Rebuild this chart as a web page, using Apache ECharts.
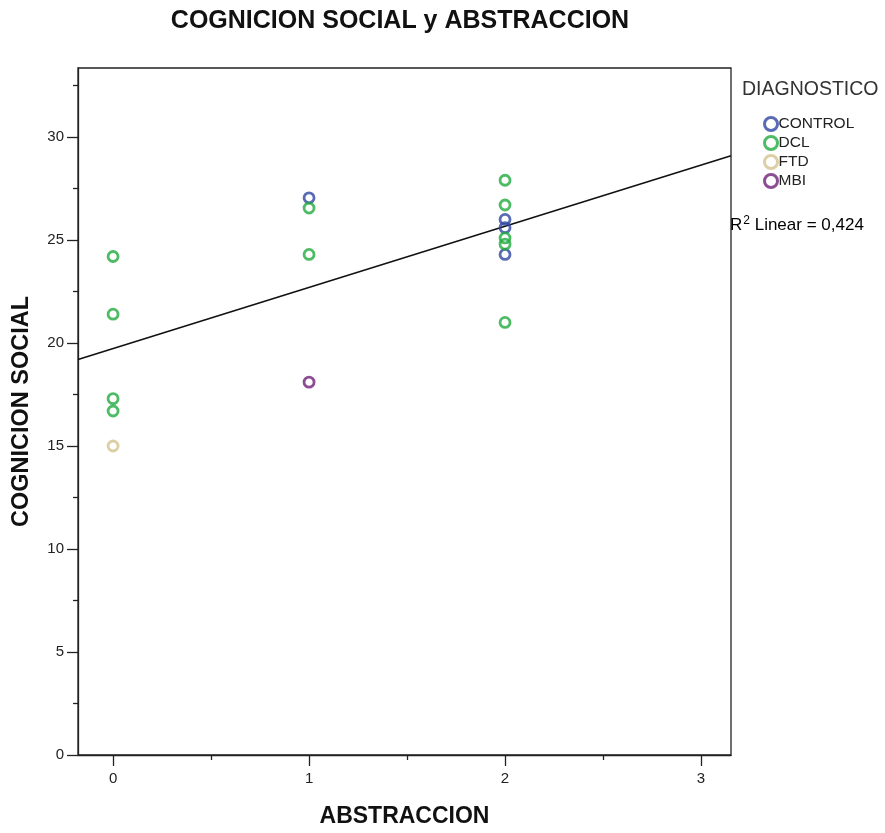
<!DOCTYPE html>
<html>
<head>
<meta charset="utf-8">
<script src="https://cdn.jsdelivr.net/npm/echarts@6/dist/echarts.min.js"></script>
<style>html,body{margin:0;padding:0;background:#fff}#c{width:885px;height:833px}</style>
</head>
<body>
<div id="c"></div>
<script>
// ---- data ----
const groups = ['CONTROL', 'DCL', 'FTD', 'MBI'];
const controlPts = [[1, 27.05], [2, 26.0], [2, 25.6], [2, 24.3]];
const dclPts = [[0, 24.2], [0, 21.4], [0, 17.3], [0, 16.7],
                [1, 26.55], [1, 24.3],
                [2, 27.9], [2, 26.7], [2, 25.1], [2, 24.8], [2, 21.0]];
const ftdPts = [[0, 15.0]];
const mbiPts = [[1, 18.1]];
const xMajorTicks = [0, 1, 2, 3];
const xMinorTicks = [0.5, 1.5, 2.5];
const yMajorTicks = [0, 5, 10, 15, 20, 25, 30];
const yMinorTicks = [2.5, 7.5, 12.5, 17.5, 22.5, 27.5, 32.5];
const xRange = [-0.179, 3.153];
const yRange = [0, 33.35];
const fitIntercept = 19.73;
const fitSlope = 2.97;
const r2Text = '0,424';

const colors = {CONTROL: '#2f46a2', DCL: '#22aa3f', FTD: '#d3c38f', MBI: '#6f2079'};
const seriesData = {CONTROL: controlPts, DCL: dclPts, FTD: ftdPts, MBI: mbiPts};

const fitLine = xRange.map(x => [x, fitIntercept + fitSlope * x]);

const font = 'Liberation Sans, Arial, sans-serif';
const chart = echarts.init(document.getElementById('c'), null, {renderer: 'canvas'});

const scatterSeries = groups.map(g => ({
  name: g,
  type: 'scatter',
  xAxisIndex: 0, yAxisIndex: 0,
  symbol: 'circle',
  symbolSize: 10,
  itemStyle: {color: 'rgba(255,255,255,0)', borderColor: colors[g], borderWidth: 2.8},
  emphasis: {disabled: true},
  data: seriesData[g],
  z: 3
}));

chart.setOption({
  animation: false,
  backgroundColor: '#fff',
  grid: {left: 78, right: 885 - 731, top: 68, bottom: 833 - 756, show: true, borderColor: '#222', borderWidth: 1.3, backgroundColor: 'transparent'},
  legend: {
    data: groups.map(g => ({name: g, icon: 'circle', itemStyle: {color: 'rgba(255,255,255,0)', borderColor: colors[g], borderWidth: 3}})),
    orient: 'vertical',
    left: 763, top: 116,
    padding: 0,
    itemWidth: 13, itemHeight: 13, itemGap: 3,
    textStyle: {fontFamily: font, fontSize: 15.5, color: '#222', padding: [0, 0, 0, -4], lineHeight: 13},
    selectedMode: false
  },
  xAxis: [{
    type: 'value', min: xRange[0], max: xRange[1], position: 'bottom',
    axisLine: {show: true, onZero: false, lineStyle: {color: '#222', width: 1.3}},
    axisTick: {show: true, customValues: xMajorTicks, length: 11, lineStyle: {color: '#222', width: 1.3}},
    axisLabel: {customValues: xMajorTicks, margin: 16, fontFamily: font, fontSize: 15, color: '#222'},
    splitLine: {show: false},
    name: 'ABSTRACCION', nameLocation: 'middle', nameGap: 50,
    nameTextStyle: {fontFamily: font, fontSize: 23, fontWeight: 'bold', color: '#111'}
  }, {
    type: 'value', min: xRange[0], max: xRange[1], position: 'bottom',
    axisLine: {show: false, onZero: false},
    axisTick: {show: true, customValues: xMinorTicks, length: 5, lineStyle: {color: '#222', width: 1.3}},
    axisLabel: {show: false},
    splitLine: {show: false}
  }],
  yAxis: [{
    type: 'value', min: yRange[0], max: yRange[1], position: 'left',
    axisLine: {show: true, onZero: false, lineStyle: {color: '#222', width: 1.3}},
    axisTick: {show: true, customValues: yMajorTicks, length: 11, lineStyle: {color: '#222', width: 1.3}},
    axisLabel: {customValues: yMajorTicks, margin: 14, fontFamily: font, fontSize: 15, color: '#222'},
    splitLine: {show: false},
    name: 'COGNICION SOCIAL', nameLocation: 'middle', nameGap: 44, nameRotate: 90,
    nameTextStyle: {fontFamily: font, fontSize: 23.5, fontWeight: 'bold', color: '#111'}
  }, {
    type: 'value', min: yRange[0], max: yRange[1], position: 'left',
    axisLine: {show: false, onZero: false},
    axisTick: {show: true, customValues: yMinorTicks, length: 5, lineStyle: {color: '#222', width: 1.3}},
    axisLabel: {show: false},
    splitLine: {show: false}
  }],
  graphic: [
    {type: 'text', x: 400, y: 21,
     style: {text: 'COGNICION SOCIAL y ABSTRACCION', font: 'bold 25px ' + font, fill: '#111', align: 'center', verticalAlign: 'middle'}},
    {type: 'text', x: 742, y: 90,
     style: {text: 'DIAGNOSTICO', font: '19.5px ' + font, fill: '#333', align: 'left', verticalAlign: 'middle'}},
    {type: 'text', x: 730, y: 225,
     style: {
       text: '{r|R}{s|2}{r| Linear = ' + r2Text + '}',
       align: 'left', verticalAlign: 'middle',
       rich: {
         r: {fontFamily: font, fontSize: 17, color: '#111'},
         s: {fontFamily: font, fontSize: 12, color: '#111', verticalAlign: 'top', padding: [0, 0, 8, 1]}
       }
     }}
  ],
  series: scatterSeries.concat([{
    name: 'fit', type: 'line', xAxisIndex: 0, yAxisIndex: 0,
    data: fitLine, showSymbol: false, symbol: 'none', silent: true,
    lineStyle: {color: '#111', width: 1.6}, z: 2
  }])
});
</script>
</body>
</html>
